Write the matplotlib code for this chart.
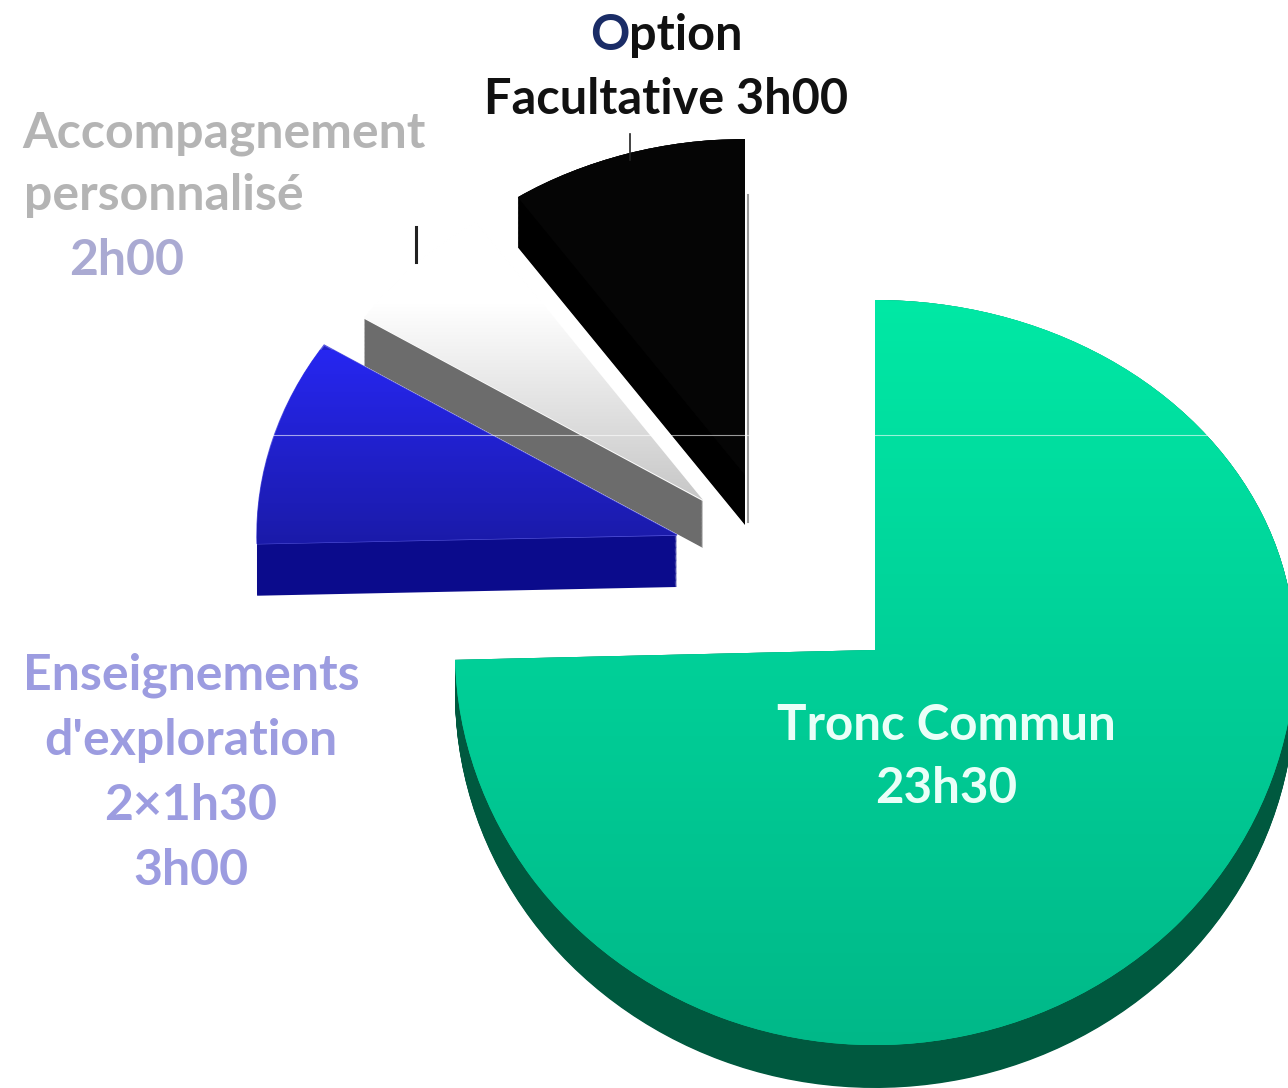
import matplotlib
matplotlib.use("Agg")
import matplotlib.pyplot as plt
import numpy as np
from matplotlib.colors import LinearSegmentedColormap

# slices in hours, in clockwise order from 12 o'clock
slices = ["Tronc Commun", "Enseignements d'exploration", "Accompagnement personnalisé", "Option Facultative"]
hours = [23.5, 3.0, 2.0, 3.0]

W, H = 1288, 1088
SX, SY_UP, SY_DOWN = 420.0, 350.0, 395.0
X0, Y0 = 875.0, 650.0

plt.rcParams["font.family"] = ["Lato", "DejaVu Sans"]
plt.rcParams["font.weight"] = "bold"


def ux(px):
    return (px - X0) / SX


def uy(py):
    if py <= Y0:
        return (Y0 - py) / SY_UP
    return (Y0 - py) / SY_DOWN


# the front of the tilted pie is stretched compared with the back
def stretch(y):
    y = np.asarray(y, dtype=float)
    return np.where(y >= 0, y * SY_UP, y * SY_DOWN)


def unstretch(v):
    v = np.asarray(v, dtype=float)
    return np.where(v >= 0, v / SY_UP, v / SY_DOWN)


fig = plt.figure(figsize=(W / 100, H / 100), dpi=100)
ax = fig.add_axes([0, 0, 1, 1])

# apex of each top face, radius, thickness in px
apex = [(875, 650), (677, 535), (703, 500), (745, 475)]
radius = [1.0, 1.0, 0.96, 0.96]
depth = [43, 52, 48, 50]
side_colors = ["#00593f", "#0b0b8c", "#6c6c6c", "#000000"]
top_colors = ["#00d098", "#2020c8", "#ffffff", "#050505"]
grads = [
    (["#00b888", "#00d098", "#00e8a4"], 1045, 300),
    (["#1a1aa8", "#2626f0"], 545, 350),
    (["#c4c4c4", "#ffffff"], 510, 300),
    (["#050505", "#050505"], 525, 140),
]
# draw order: green, then grey, blue, black
z = [1, 5, 3, 7]

ax.set_yscale("function", functions=(stretch, unstretch))

# the side of a slice is the slice pushed down step by step
for k in range(61):
    sides, _ = ax.pie(hours, startangle=90, counterclock=False, colors=side_colors)
    for i in range(len(hours)):
        px, py = apex[i]
        sides[i].set_center((ux(px), uy(py + depth[i] * k / 60)))
        sides[i].set_radius(radius[i])
        sides[i].set_zorder(z[i])

tops, _ = ax.pie(hours, startangle=90, counterclock=False, colors=top_colors)
for i in range(len(hours)):
    px, py = apex[i]
    tops[i].set_center((ux(px), uy(py)))
    tops[i].set_radius(radius[i])
    tops[i].set_zorder(z[i] + 1)

    cols, p0, p1 = grads[i]
    cmap = LinearSegmentedColormap.from_list("g%d" % i, cols)
    ys = np.linspace(uy(p0), uy(p1), 121)
    vals = np.linspace(0, 1, 120).reshape(-1, 1)
    mesh = ax.pcolormesh([ux(0), ux(W)], ys, vals, cmap=cmap, zorder=z[i] + 1.5)
    mesh.set_clip_path(tops[i])

tops[1].set_edgecolor("#5a5ae0")
tops[1].set_linewidth(1.0)
tops[2].set_edgecolor("#ffffff")
tops[2].set_linewidth(1.5)

# soft edge on the right of the black slice
ax.plot([ux(747.5), ux(747.5)], [uy(195), uy(522)], color="#9a9a9a", lw=1.5, zorder=6)

# leader lines
ax.plot([ux(630), ux(630)], [uy(134), uy(160)], color="#222222", lw=1.2, zorder=9)
ax.plot([ux(416), ux(416)], [uy(227), uy(262)], color="#222222", lw=2.2, zorder=9)

# thin seam across the picture
ax.plot([ux(270), ux(1212)], [uy(434.5), uy(434.5)], color="#ffffff", alpha=0.6, lw=0.8, zorder=9)

ax.set_xlim(ux(0), ux(W))
ax.set_ylim(uy(H), uy(0))
ax.set_aspect("auto")
ax.axis("off")


def label(x, y, s, color, ha="center", fs=36):
    return fig.text(x / W, 1 - y / H, s, color=color, fontsize=fs, ha=ha, va="baseline", zorder=20)


o = label(590, 50, "O", "#1a2c66", ha="left", fs=35)
ax.annotate("ption", xy=(1, 0), xycoords=o, color="#111111", fontsize=35, ha="left", va="bottom", annotation_clip=False)
label(666, 114, "Facultative 3h00", "#111111", fs=35)

label(22, 147, "Accompagnement", "#b4b4b4", ha="left")
label(24, 210, "personnalisé", "#b4b4b4", ha="left")
label(127, 275, "2h00", "#aaaad2")

label(191, 690, "Enseignements", "#9c9ce0")
label(191, 755, "d'exploration", "#9c9ce0")
label(191, 820, "2×1h30", "#9c9ce0")
label(191, 885, "3h00", "#9c9ce0")

label(946, 740, "Tronc Commun", "#eafff8", fs=35.5)
label(946, 803, "23h30", "#eafff8", fs=35.5)

fig.savefig("out.png", dpi=100, facecolor="white")
